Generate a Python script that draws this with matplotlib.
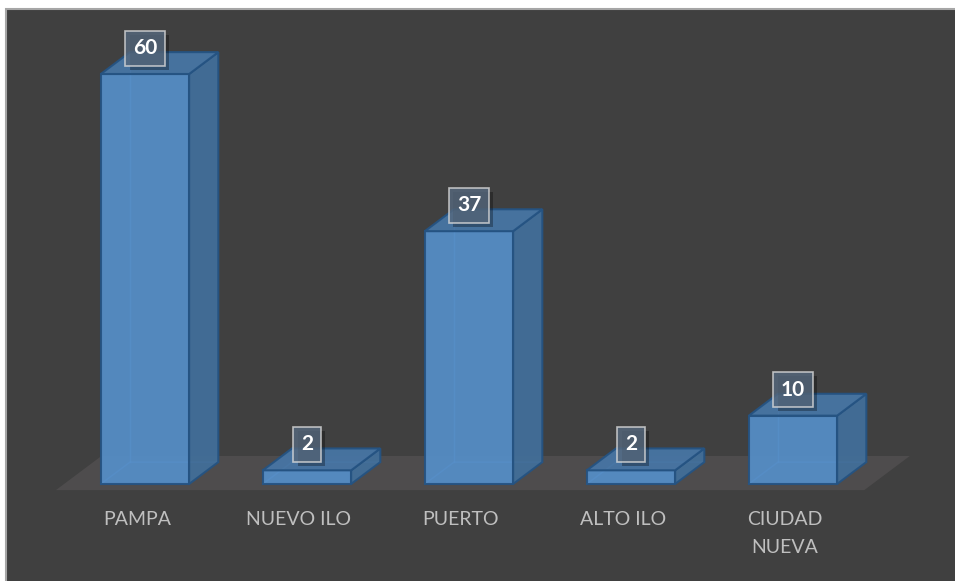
import matplotlib.pyplot as plt
from matplotlib.patches import Polygon, Rectangle
import matplotlib.patheffects as pe

categories = ["PAMPA", "NUEVO ILO", "PUERTO", "ALTO ILO", "CIUDAD\nNUEVA"]
values = [60, 2, 37, 2, 10]

# bar geometry in data units (x: category index, y: value)
bar_w = 0.545
depth_x = 0.18
depth_y = 3.2

bg = "#404040"
floor_col = "#4e4c4d"
front_col = "#558ec8"
side_col = "#426e99"
top_col = "#4775a4"
edge_col = "#255382"
text_col = "#bfbfbf"

fig = plt.figure(figsize=(9.55, 5.81), dpi=100)
fig.patch.set_facecolor("white")

# dark chart area with a thin light border
fig.patches.append(Rectangle((6 / 955, -0.01), 1.0, 1.01 - 9 / 581, transform=fig.transFigure,
                             facecolor=bg, edgecolor="#a6a6a6", linewidth=1.5, zorder=-1))

ax = fig.add_axes([0, 0, 1, 1])
ax.set_xlim(-0.895, 5.0)
ax.set_ylim(-14.2, 70.83)
ax.axis("off")
ax.patch.set_alpha(0)

# floor plane
f_front, f_back = -0.9, depth_y + 0.9
f_shift = (f_back - f_front) / depth_y * depth_x
fx0, fx1 = -0.55, 4.44
ax.add_patch(Polygon([(fx0, f_front), (fx1, f_front), (fx1 + f_shift, f_back), (fx0 + f_shift, f_back)],
                     closed=True, facecolor=floor_col, edgecolor="none", zorder=1))

for i, (cat, v) in enumerate(zip(categories, values)):
    x0 = i - bar_w / 2
    x1 = i + bar_w / 2
    # hidden back edges, seen through the faces
    ax.plot([x0 + depth_x, x0 + depth_x], [depth_y, v + depth_y], color="#6a9fd4", lw=1, alpha=0.7, zorder=2)
    ax.plot([x0, x0 + depth_x, x1 + depth_x], [0, depth_y, depth_y], color="#6a9fd4", lw=1, alpha=0.7, zorder=2)

    front = Polygon([(x0, 0), (x1, 0), (x1, v), (x0, v)], closed=True,
                    facecolor=front_col, edgecolor=edge_col, lw=1.5, alpha=0.93, zorder=3)
    side = Polygon([(x1, 0), (x1 + depth_x, depth_y), (x1 + depth_x, v + depth_y), (x1, v)], closed=True,
                   facecolor=side_col, edgecolor=edge_col, lw=1.5, alpha=0.95, zorder=3)
    top = Polygon([(x0, v), (x1, v), (x1 + depth_x, v + depth_y), (x0 + depth_x, v + depth_y)], closed=True,
                  facecolor=top_col, edgecolor=edge_col, lw=1.5, alpha=0.95, zorder=3)
    for p in (front, side, top):
        ax.add_patch(p)

    # value label
    t = ax.text(i, v + depth_y + 0.6, str(v), ha="center", va="center", color="white",
                fontsize=15, fontweight="bold", family="Lato", zorder=6,
                bbox=dict(boxstyle="square,pad=0.36", facecolor="#56697e", alpha=0.8,
                          edgecolor="#d9d9d9", linewidth=1.2))
    t.get_bbox_patch().set_path_effects([pe.SimplePatchShadow(offset=(3, -3), shadow_rgbFace="black", alpha=0.3),
                                         pe.Normal()])

    # category label
    ax.text(i - 0.05, -4.0, cat, ha="center", va="top", color=text_col,
            fontsize=14, family="Lato", linespacing=1.75, zorder=5)

fig.savefig("out.png", dpi=100, facecolor=fig.get_facecolor())
